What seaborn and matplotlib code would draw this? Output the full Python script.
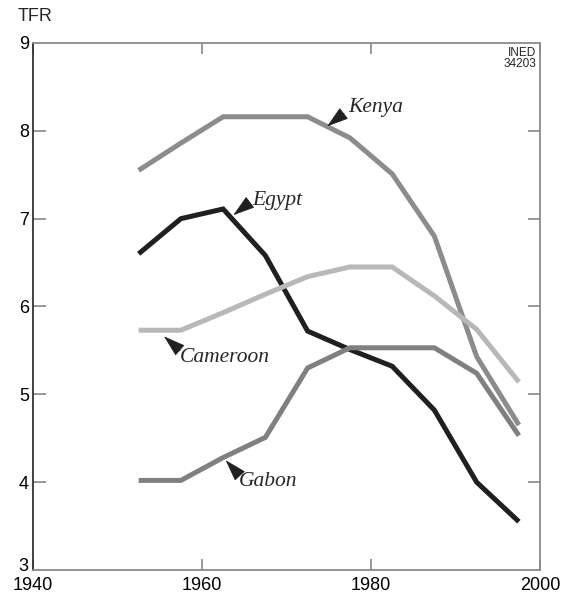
import pandas as pd
import matplotlib
matplotlib.use("Agg")
import matplotlib.pyplot as plt
import matplotlib.transforms as mtransforms
import seaborn as sns

years = [1952.5, 1957.5, 1962.5, 1967.5, 1972.5, 1977.5, 1982.5, 1987.5, 1992.5, 1997.5]
kenya = [7.55, 7.86, 8.16, 8.16, 8.16, 7.92, 7.51, 6.80, 5.43, 4.65]
egypt = [6.60, 7.00, 7.11, 6.58, 5.72, 5.51, 5.32, 4.82, 4.00, 3.55]
cameroon = [5.73, 5.73, 5.93, 6.14, 6.34, 6.45, 6.45, 6.12, 5.74, 5.14]
gabon = [4.02, 4.02, 4.28, 4.51, 5.30, 5.53, 5.53, 5.53, 5.24, 4.53]

countries = ["Kenya", "Egypt", "Cameroon", "Gabon"]
colors = {"Kenya": "#8c8c8e", "Egypt": "#231f20", "Cameroon": "#b8b8b8", "Gabon": "#808082"}

# label text position, arrow tip, arrow tail (data coords)
labels = {
    "Kenya": ((1977.3, 8.26), (1974.8, 8.05), (1976.8, 8.20)),
    "Egypt": ((1965.9, 7.21), (1963.7, 7.04), (1965.6, 7.18)),
    "Cameroon": ((1957.4, 5.42), (1955.5, 5.66), (1957.4, 5.50)),
    "Gabon": ((1964.3, 4.01), (1962.8, 4.25), (1964.4, 4.08)),
}

df = pd.DataFrame({
    "year": years * 4,
    "tfr": kenya + egypt + cameroon + gabon,
    "country": [c for c in countries for _ in years],
})

sns.set_style("white")
plt.rcParams["font.family"] = ["Liberation Sans", "DejaVu Sans"]

fig = plt.figure(figsize=(5.64, 5.97), dpi=100)
ax = fig.add_axes([0.0585, 0.0452, 0.899, 0.8828])

sns.lineplot(data=df, x="year", y="tfr", hue="country", palette=colors,
             linewidth=3.6, legend=False, ax=ax)
for line in ax.get_lines():
    line.set_solid_joinstyle("miter")
    line.set_solid_capstyle("butt")

ax.set_xlim(1940, 2000)
ax.set_ylim(3, 9)
ax.set_xticks([1940, 1960, 1980, 2000])
ax.set_yticks([3, 4, 5, 6, 7, 8, 9])
ax.set_xlabel("")
ax.set_ylabel("")
ax.tick_params(axis="both", labelsize=13, colors="#888888", labelcolor="black")
ax.tick_params(axis="y", direction="in", length=9, width=1.2, right=True, left=True, pad=3)
ax.tick_params(axis="x", direction="in", length=8, width=1.2, bottom=True, top=True, pad=5)

# no ticks at the corners
for t in ax.xaxis.get_major_ticks():
    if t.get_loc() in (1940, 2000):
        t.tick1line.set_visible(False)
        t.tick2line.set_visible(False)
for t in ax.yaxis.get_major_ticks():
    if t.get_loc() in (3, 9):
        t.tick1line.set_visible(False)
        t.tick2line.set_visible(False)
lab3 = ax.get_yticklabels()[0]
lab3.set_transform(lab3.get_transform() +
                   mtransforms.ScaledTranslation(0, 4 / 72, fig.dpi_scale_trans))

for side in ["top", "right", "bottom"]:
    ax.spines[side].set_color("#8a8a8a")
    ax.spines[side].set_linewidth(1.3)
ax.spines["left"].set_color("#333333")
ax.spines["left"].set_linewidth(1.3)

fig.text(0.032, 0.973, "TFR", fontsize=13, ha="left", va="center")
ax.text(0.992, 0.993, "INED\n34203", transform=ax.transAxes, ha="right", va="top",
        fontsize=8.5, linespacing=0.9)

label_font = dict(family=["Liberation Serif", "DejaVu Serif"], style="italic", fontsize=15.5)
arrow = dict(arrowstyle="-|>,head_length=0.7,head_width=0.22", color="#231f20",
             lw=0.6, shrinkA=0, shrinkB=0, mutation_scale=20)
for name, (txt, tip, tail) in labels.items():
    ax.annotate("", xy=tip, xytext=tail, arrowprops=arrow)
    ax.text(txt[0], txt[1], name, ha="left", va="center", **label_font)

fig.savefig("out.png", dpi=100)
